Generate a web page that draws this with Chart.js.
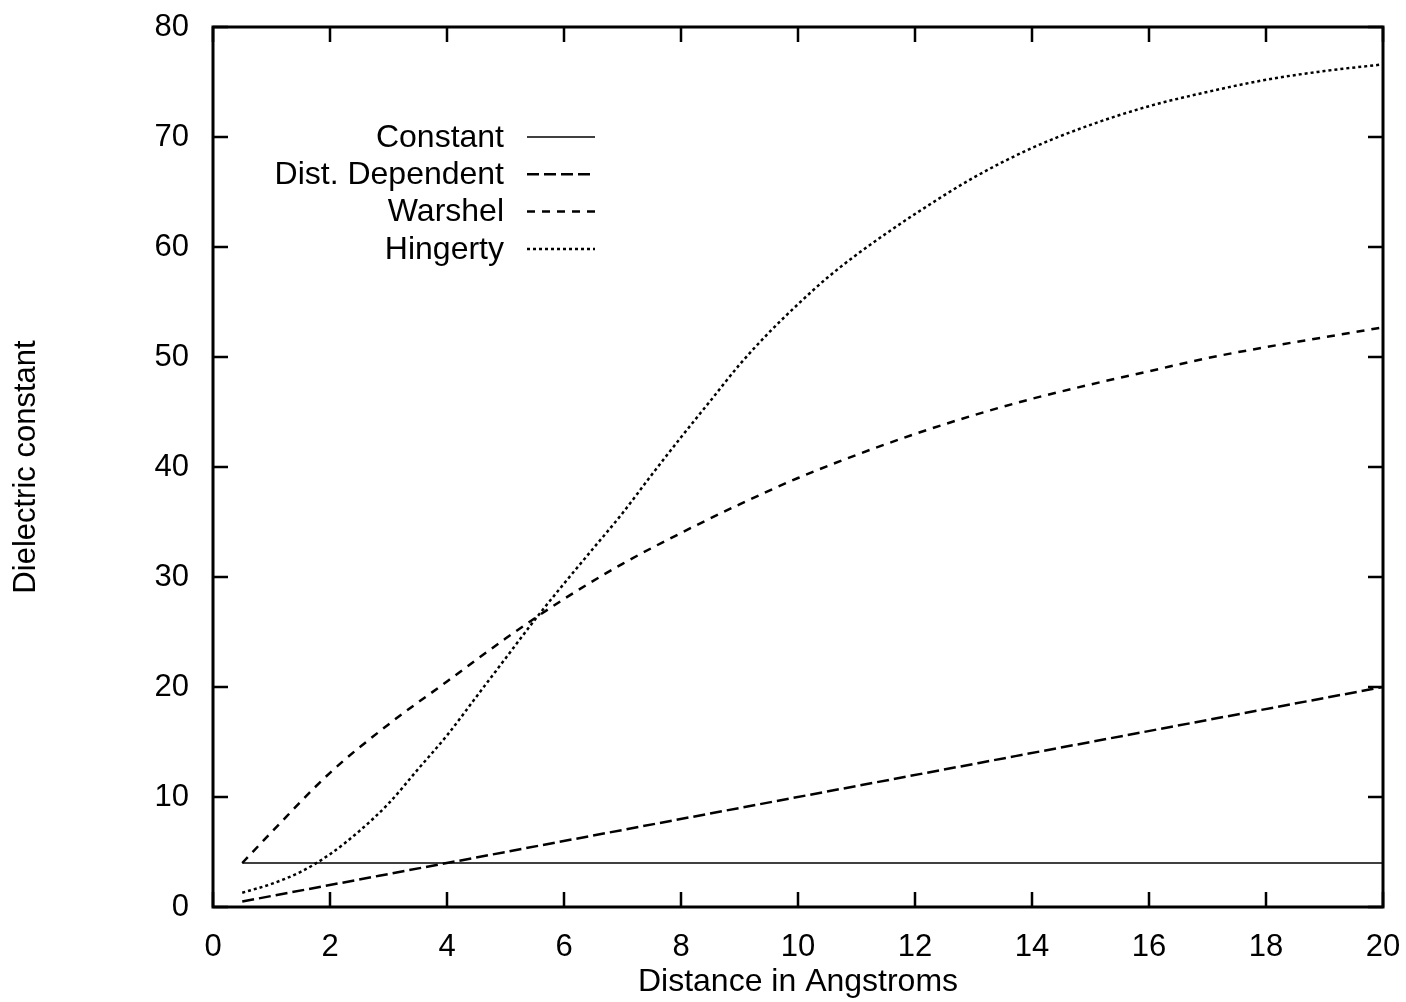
<!DOCTYPE html>
<html>
<head>
<meta charset="utf-8">
<title>Dielectric constant vs distance</title>
<script src="https://cdn.jsdelivr.net/npm/chart.js@4.4.1/dist/chart.umd.min.js"></script>
<style>
  html, body { margin: 0; padding: 0; background: #fff; }
  #wrap { width: 1406px; height: 1002px; }
</style>
</head>
<body>
<div id="wrap"><canvas id="chartDielectric"></canvas></div>
<script>
/***************** DATA *****************/
const seriesNames = ['Constant', 'Dist. Dependent', 'Warshel', 'Hingerty'];

const constantR   = [0.5, 20];
const constantEps = [4, 4];

const distDepR   = [0.5, 20];
const distDepEps = [0.5, 20];

const warshelR   = [0.5, 1, 2, 3, 4, 5, 6, 7, 8, 9, 10, 11, 12, 13, 14, 15, 16, 17, 18, 19, 20];
const warshelEps = [4, 6.8, 12.2, 16.6, 20.5, 24.4, 28.0, 31.2, 34.0, 36.6, 39.0, 41.1, 43.0, 44.7, 46.2, 47.5, 48.7, 49.9, 50.9, 51.8, 52.7];

const hingertyR   = [0.5, 1, 1.5, 2, 2.5, 3, 3.5, 4, 4.5, 5, 5.5, 6, 6.5, 7, 7.5, 8, 8.5, 9, 9.5, 10, 10.5, 11, 11.5, 12, 13, 14, 15, 16, 17, 18, 19, 20];
const hingertyEps = [1.3, 2.1, 3.2, 4.8, 6.9, 9.4, 12.5, 15.6, 19.1, 22.6, 26.1, 29.4, 32.6, 35.8, 39.3, 42.7, 46.0, 49.3, 52.2, 54.8, 57.2, 59.3, 61.2, 63.0, 66.3, 69.0, 71.1, 72.8, 74.1, 75.2, 76.0, 76.6];

const xTicks = [0, 2, 4, 6, 8, 10, 12, 14, 16, 18, 20];
const yTicks = [0, 10, 20, 30, 40, 50, 60, 70, 80];

/***************** HELPERS *****************/
function toPoints(xs, ys) {
    return xs.map((x, i) => ({ x: x, y: ys[i] }));
}

const fontFamily = '"Liberation Sans", Arial, Helvetica, sans-serif';
const fontSize = 31;
const titleSize = 32;

const lineStyles = [
    { dash: [],      width: 1.5 },
    { dash: [12, 5], width: 2.5 },
    { dash: [8, 7],  width: 2.5 },
    { dash: [3, 3],  width: 2.5 }
];

/***************** FRAME + INSIDE TICKS *****************/
const framePlugin = {
    id: 'gnuFrame',
    afterDatasetsDraw(chart) {
        const ctx = chart.ctx;
        const area = chart.chartArea;
        const xs = chart.scales.x;
        const ys = chart.scales.y;
        const tickLen = 15;
        ctx.save();
        ctx.strokeStyle = '#000';
        ctx.lineWidth = 2.5;
        ctx.beginPath();
        xTicks.forEach(v => {
            const px = xs.getPixelForValue(v);
            ctx.moveTo(px, area.bottom);
            ctx.lineTo(px, area.bottom - tickLen);
            ctx.moveTo(px, area.top);
            ctx.lineTo(px, area.top + tickLen);
        });
        yTicks.forEach(v => {
            const py = ys.getPixelForValue(v);
            ctx.moveTo(area.left, py);
            ctx.lineTo(area.left + tickLen, py);
            ctx.moveTo(area.right, py);
            ctx.lineTo(area.right - tickLen, py);
        });
        ctx.stroke();
        ctx.lineWidth = 3;
        ctx.strokeRect(area.left, area.top, area.right - area.left, area.bottom - area.top);
        ctx.restore();
    }
};

/***************** GNUPLOT STYLE KEY *****************/
const keyPlugin = {
    id: 'gnuKey',
    afterDatasetsDraw(chart) {
        const ctx = chart.ctx;
        const textRight = 504;
        const sampleLeft = 527;
        const sampleRight = 595;
        const firstRow = 137;
        const rowGap = 37.3;
        ctx.save();
        ctx.font = titleSize + 'px ' + fontFamily;
        ctx.fillStyle = '#000';
        ctx.textAlign = 'right';
        ctx.textBaseline = 'middle';
        chart.data.datasets.forEach((ds, i) => {
            const y = firstRow + i * rowGap;
            ctx.fillText(ds.label, textRight, y + 1);
            ctx.beginPath();
            ctx.setLineDash(ds.borderDash || []);
            ctx.lineWidth = ds.borderWidth;
            ctx.strokeStyle = ds.borderColor;
            ctx.moveTo(sampleLeft, y);
            ctx.lineTo(sampleRight, y);
            ctx.stroke();
        });
        ctx.restore();
    }
};

/***************** DRAW CHART *****************/
function drawDielectricChart() {
    const allData = [
        toPoints(constantR, constantEps),
        toPoints(distDepR, distDepEps),
        toPoints(warshelR, warshelEps),
        toPoints(hingertyR, hingertyEps)
    ];

    const datasets = seriesNames.map((name, i) => ({
        label: name,
        data: allData[i],
        borderColor: '#000',
        borderWidth: lineStyles[i].width,
        borderDash: lineStyles[i].dash,
        pointRadius: 0,
        fill: false,
        cubicInterpolationMode: 'monotone'
    }));

    const canvas = document.getElementById('chartDielectric').getContext('2d');
    new Chart(canvas, {
        type: 'line',
        data: { datasets: datasets },
        options: {
            responsive: true,
            maintainAspectRatio: false,
            animation: false,
            layout: { padding: { top: 27, right: 23, bottom: 0, left: 0 } },
            plugins: {
                legend: { display: false },
                tooltip: { enabled: false }
            },
            scales: {
                x: {
                    type: 'linear',
                    min: 0,
                    max: 20,
                    afterBuildTicks: scale => { scale.ticks = xTicks.map(v => ({ value: v })); },
                    afterFit: scale => {
                        scale.height = 95;
                        scale.paddingLeft = 0;
                        scale.paddingRight = 0;
                    },
                    grid: { display: false, drawTicks: false },
                    border: { display: false },
                    ticks: {
                        padding: 22,
                        color: '#000',
                        font: { family: fontFamily, size: fontSize }
                    },
                    title: {
                        display: true,
                        text: 'Distance in Angstroms',
                        color: '#000',
                        font: { family: fontFamily, size: titleSize },
                        padding: { top: 0, bottom: 1 }
                    }
                },
                y: {
                    type: 'linear',
                    min: 0,
                    max: 80,
                    afterBuildTicks: scale => { scale.ticks = yTicks.map(v => ({ value: v })); },
                    afterFit: scale => {
                        scale.width = 213;
                        scale.paddingTop = 0;
                        scale.paddingBottom = 0;
                    },
                    grid: { display: false, drawTicks: false },
                    border: { display: false },
                    ticks: {
                        padding: 24,
                        color: '#000',
                        font: { family: fontFamily, size: fontSize }
                    },
                    title: {
                        display: true,
                        text: 'Dielectric constant',
                        color: '#000',
                        font: { family: fontFamily, size: fontSize },
                        padding: { top: 8, bottom: 0 }
                    }
                }
            }
        },
        plugins: [framePlugin, keyPlugin]
    });
}

drawDielectricChart();
</script>
</body>
</html>
